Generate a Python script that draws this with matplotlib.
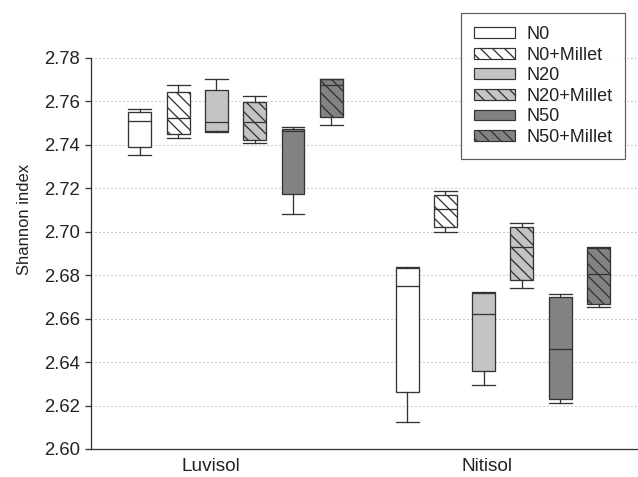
import matplotlib
matplotlib.use("Agg")
import matplotlib.pyplot as plt
from matplotlib.patches import Patch

plt.rcParams['font.family'] = ['Liberation Sans', 'DejaVu Sans']
plt.rcParams['hatch.linewidth'] = 1.3

# ---- data ----
soils = ["Luvisol", "Nitisol"]
treatments = ["N0", "N0+Millet", "N20", "N20+Millet", "N50", "N50+Millet"]

# per soil: lists over treatments
luvisol_whislo = [2.7352, 2.7433, 2.7459, 2.7410, 2.7081, 2.7490]
luvisol_q1     = [2.7392, 2.7450, 2.7464, 2.7423, 2.7173, 2.7530]
luvisol_med    = [2.7512, 2.7522, 2.7504, 2.7504, 2.7462, 2.7676]
luvisol_q3     = [2.7553, 2.7644, 2.7654, 2.7599, 2.7475, 2.7703]
luvisol_whishi = [2.7565, 2.7676, 2.7702, 2.7625, 2.7483, 2.7705]

nitisol_whislo = [2.6125, 2.6999, 2.6296, 2.6740, 2.6213, 2.6655]
nitisol_q1     = [2.6264, 2.7023, 2.6358, 2.6778, 2.6229, 2.6666]
nitisol_med    = [2.6752, 2.7103, 2.6620, 2.6930, 2.6459, 2.6804]
nitisol_q3     = [2.6835, 2.7169, 2.6718, 2.7022, 2.6698, 2.6927]
nitisol_whishi = [2.6839, 2.7188, 2.6722, 2.7042, 2.6714, 2.6930]

yticks = [2.60, 2.62, 2.64, 2.66, 2.68, 2.70, 2.72, 2.74, 2.76, 2.78]

# ---- style ----
fills = ["#ffffff", "#ffffff", "#c4c4c4", "#c4c4c4", "#828282", "#828282"]
hatches = ["", "\\\\", "", "\\\\", "", "\\\\"]
edge = "#333333"

W, H, DPI = 638, 477, 72
fig = plt.figure(figsize=(W / DPI, H / DPI), dpi=DPI)
ax = fig.add_axes([91 / W, 1 - 449 / H, (638 - 91) / W, (449 - 58) / H])

group_centers = [1.0, 2.0]
spacing = 0.1433
box_w = 0.086

data_sets = [
    (luvisol_whislo, luvisol_q1, luvisol_med, luvisol_q3, luvisol_whishi),
    (nitisol_whislo, nitisol_q1, nitisol_med, nitisol_q3, nitisol_whishi),
]

for g, (wlo, q1, med, q3, whi) in enumerate(data_sets):
    stats = []
    positions = []
    for i in range(len(treatments)):
        stats.append(dict(whislo=wlo[i], q1=q1[i], med=med[i], q3=q3[i],
                          whishi=whi[i], fliers=[], label=treatments[i]))
        positions.append(group_centers[g] + (i - 2.5) * spacing)
    bp = ax.bxp(stats, positions=positions, widths=box_w, capwidths=box_w,
                patch_artist=True, showfliers=False, manage_ticks=False,
                boxprops=dict(edgecolor=edge, linewidth=1.3),
                medianprops=dict(color=edge, linewidth=1.3),
                whiskerprops=dict(color=edge, linewidth=1.3),
                capprops=dict(color=edge, linewidth=1.3))
    for patch, fc, h in zip(bp['boxes'], fills, hatches):
        patch.set_facecolor(fc)
        patch.set_hatch(h)
        patch.set_zorder(3)
    for k in ('medians', 'whiskers', 'caps'):
        for ln in bp[k]:
            ln.set_zorder(4)

ax.set_xlim(0.459, 2.506)
ax.set_ylim(2.60, 2.78)
ax.set_yticks(yticks)
ax.set_yticklabels([f"{v:.2f}" for v in yticks])
ax.set_xticks([0.908, 1.941])
ax.set_xticklabels(soils)

ax.tick_params(axis='x', length=0, pad=9, labelsize=19, colors='#222222')
ax.tick_params(axis='y', length=6, width=1.3, pad=5, labelsize=18.5,
               colors='#333333', labelcolor='#222222')
ax.set_ylabel("Shannon index", fontsize=16.5, color='#222222')
ax.yaxis.set_label_coords(-0.108, 0.586)

for s in ('top', 'right'):
    ax.spines[s].set_visible(False)
for s in ('left', 'bottom'):
    ax.spines[s].set_color('#333333')
    ax.spines[s].set_linewidth(1.3)

ax.yaxis.grid(True, linestyle=(0, (1, 3)), color='#999999', linewidth=1.0)
ax.set_axisbelow(True)

handles = [Patch(facecolor=fc, edgecolor=edge, hatch=h, linewidth=1.2)
           for fc, h in zip(fills, hatches)]
leg = fig.legend(handles, treatments, loc='upper left',
                 bbox_to_anchor=(461 / W, 1 - 13 / H), borderaxespad=0,
                 fontsize=18, frameon=True, fancybox=False,
                 handlelength=2.3, handleheight=0.55, handletextpad=0.6,
                 labelspacing=0.2, borderpad=0.72)
leg.get_frame().set_edgecolor('#333333')
leg.get_frame().set_linewidth(1.2)
for t in leg.get_texts():
    t.set_color('#222222')

fig.savefig("out.png", dpi=DPI)
